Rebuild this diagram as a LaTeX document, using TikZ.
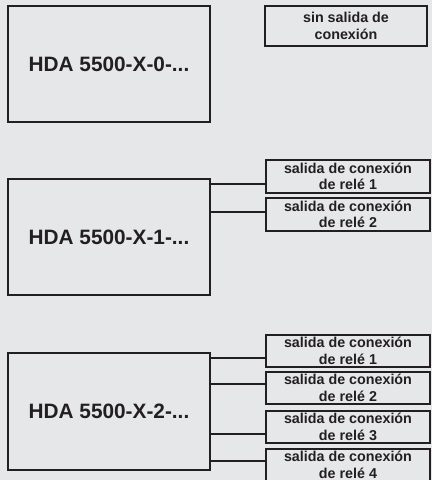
\documentclass[tikz,border=0pt]{standalone}
\usepackage{fontspec}
\setmainfont{Liberation Sans}
\definecolor{bg}{HTML}{E6E7E9}
\definecolor{ink}{HTML}{231F20}
\tikzset{
  mainbox/.style={draw=ink, line width=2.3pt, fill=bg, inner sep=0pt,
    minimum width=202pt, minimum height=116pt, text=ink,
    font=\bfseries\fontsize{20.8}{24}\selectfont},
  relay/.style={draw=ink, line width=2.3pt, fill=bg, inner sep=0pt, align=center,
    minimum width=164pt, minimum height=33pt, text=ink,
    font=\bfseries\fontsize{14.3}{16.5}\selectfont},
  wire/.style={draw=ink, line width=2pt}
}
\begin{document}
\begin{tikzpicture}[x=1pt, y=-1pt]
\fill[bg] (0,0) rectangle (432,480);
\useasboundingbox (0,0) rectangle (432,480);
% group 0
\node[mainbox] (b0) at (109,64) {HDA 5500-X-0-...};
\node[relay, minimum width=162pt, minimum height=40pt] (s0) at (346,26) {sin salida de\\conexión};
% group 1
\node[mainbox] (b1) at (109,237) {HDA 5500-X-1-...};
\node[relay] (r11) at (348,176.5) {salida de conexión\\de relé 1};
\node[relay] (r12) at (348,214.5) {salida de conexión\\de relé 2};
\draw[wire] (b1.east |- 0,184) -- (r11.west |- 0,184);
\draw[wire] (b1.east |- 0,212) -- (r12.west |- 0,212);
% group 2
\node[mainbox, minimum height=117pt] (b2) at (109,411.5) {HDA 5500-X-2-...};
\node[relay, minimum height=32pt] (r21) at (348,351) {salida de conexión\\de relé 1};
\node[relay, minimum height=32pt] (r22) at (348,388) {salida de conexión\\de relé 2};
\node[relay, minimum height=32pt] (r23) at (348,427) {salida de conexión\\de relé 3};
\node[relay, minimum height=32pt] (r24) at (348,465) {salida de conexión\\de relé 4};
\draw[wire] (b2.east |- 0,358) -- (r21.west |- 0,358);
\draw[wire] (b2.east |- 0,384) -- (r22.west |- 0,384);
\draw[wire] (b2.east |- 0,434) -- (r23.west |- 0,434);
\draw[wire] (b2.east |- 0,461) -- (r24.west |- 0,461);
\end{tikzpicture}
\end{document}
